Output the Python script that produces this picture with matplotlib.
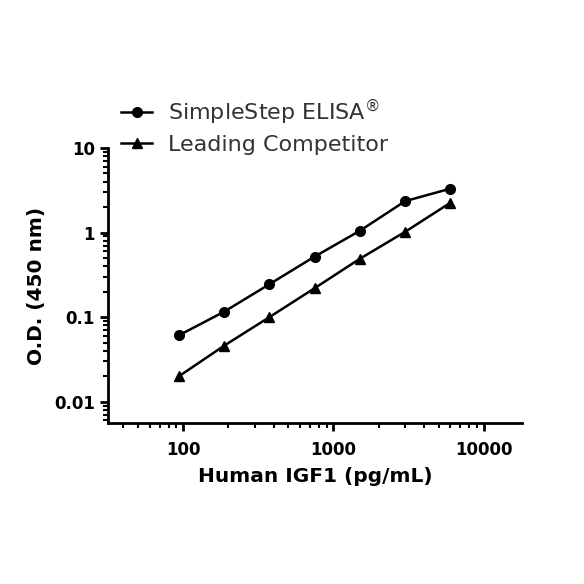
import matplotlib.pyplot as plt
from matplotlib.ticker import LogLocator, FixedLocator, FixedFormatter, NullFormatter

conc = [93.75, 187.5, 375, 750, 1500, 3000, 6000]
od_simplestep = [0.061, 0.116, 0.245, 0.52, 1.05, 2.35, 3.3]
od_competitor = [0.020, 0.046, 0.100, 0.22, 0.49, 1.02, 2.25]

fig = plt.figure(figsize=(5.84, 5.84), dpi=100)
ax = fig.add_axes([0.185, 0.2757, 0.709, 0.471])

ax.plot(conc, od_simplestep, color='black', lw=1.8, marker='o', ms=7,
        label=r'SimpleStep ELISA$^{\circledR}$')
ax.plot(conc, od_competitor, color='black', lw=1.8, marker='^', ms=7,
        label='Leading Competitor')

ax.set_xscale('log')
ax.set_yscale('log')
ax.set_xlim(31.6, 18000)
ax.set_ylim(0.0056, 10)

ax.xaxis.set_major_locator(FixedLocator([100, 1000, 10000]))
ax.xaxis.set_major_formatter(FixedFormatter(['100', '1000', '10000']))
ax.xaxis.set_minor_locator(LogLocator(base=10, subs=range(2, 10)))
ax.xaxis.set_minor_formatter(NullFormatter())
ax.yaxis.set_major_locator(FixedLocator([0.01, 0.1, 1, 10]))
ax.yaxis.set_major_formatter(FixedFormatter(['0.01', '0.1', '1', '10']))
ax.yaxis.set_minor_locator(LogLocator(base=10, subs=range(2, 10)))
ax.yaxis.set_minor_formatter(NullFormatter())

for s in ['top', 'right']:
    ax.spines[s].set_visible(False)
for s in ['left', 'bottom']:
    ax.spines[s].set_linewidth(2)

ax.tick_params(which='major', length=6, width=2, labelsize=12)
ax.tick_params(which='minor', length=3.5, width=1.5)
ax.tick_params(axis='x', which='major', pad=7)
for lab in ax.get_xticklabels() + ax.get_yticklabels():
    lab.set_fontweight('bold')

ax.set_xlabel('Human IGF1 (pg/mL)', fontsize=14.5, fontweight='bold', labelpad=6)
ax.set_ylabel('O.D. (450 nm)', fontsize=14.5, fontweight='bold', labelpad=6)

ax.legend(loc='lower left', bbox_to_anchor=(0.01, 0.943), frameon=False,
          fontsize=16, handlelength=1.4, handletextpad=0.7, labelspacing=0.35,
          labelcolor='#333333', borderaxespad=0)

fig.savefig('out.png', dpi=100)
